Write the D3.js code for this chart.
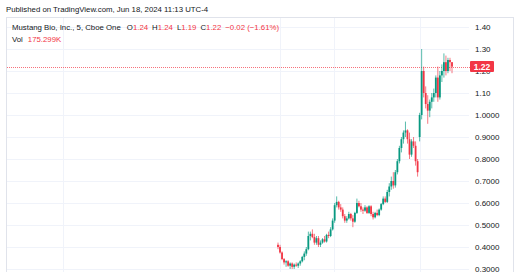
<!DOCTYPE html>
<html><head><meta charset="utf-8">
<script src="https://cdn.jsdelivr.net/npm/d3@7/dist/d3.min.js"></script>
<style>body{margin:0;background:#fff;}svg{display:block;font-family:"Liberation Sans",Arial,sans-serif;}</style>
</head><body>
<script>
const opens  = [.41,.40,.375,.345,.33,.335,.315,.325,.31,.32,.315,.325,.335,.355,.37,.39,.45,.46,.445,.42,.44,.41,.42,.435,.425,.455,.45,.48,.52,.59,.605,.58,.57,.54,.52,.53,.55,.53,.515,.555,.60,.585,.57,.565,.58,.555,.585,.55,.535,.555,.545,.57,.595,.62,.605,.65,.675,.70,.68,.74,.79,.85,.89,.92,.93,.89,.82,.88,.86,.79,.90,1.00,1.20,1.10,1.05,1.02,1.06,1.08,1.10,1.17,1.08,1.18,1.20,1.24,1.20,1.25,1.24];
const highs  = [.42,.41,.38,.35,.34,.34,.33,.33,.325,.33,.33,.34,.36,.38,.40,.47,.47,.48,.46,.45,.45,.43,.44,.45,.46,.47,.49,.53,.60,.63,.61,.595,.58,.55,.54,.56,.555,.545,.56,.62,.61,.60,.58,.59,.585,.59,.59,.56,.56,.57,.575,.60,.63,.63,.66,.69,.72,.74,.75,.80,.86,.90,.93,.97,.935,.92,.89,.90,.88,.80,1.01,1.30,1.22,1.13,1.09,1.07,1.10,1.12,1.18,1.22,1.20,1.23,1.28,1.27,1.26,1.26,1.24];
const lows   = [.39,.37,.34,.32,.31,.31,.30,.30,.30,.31,.305,.315,.33,.34,.36,.385,.43,.44,.41,.41,.40,.40,.415,.42,.42,.44,.445,.475,.51,.58,.57,.56,.53,.51,.51,.525,.52,.49,.51,.55,.58,.56,.55,.56,.55,.55,.54,.525,.53,.54,.54,.565,.59,.60,.60,.63,.66,.665,.67,.73,.78,.83,.87,.90,.87,.80,.81,.85,.77,.72,.88,.98,1.08,1.03,.96,.99,1.03,1.06,1.08,1.06,1.07,1.15,1.17,1.18,1.19,1.20,1.19];
const closes = [.40,.375,.345,.33,.335,.315,.325,.31,.32,.315,.325,.335,.355,.37,.39,.45,.46,.445,.42,.44,.41,.42,.435,.425,.455,.45,.48,.52,.59,.605,.58,.57,.54,.52,.53,.55,.53,.515,.555,.60,.585,.57,.565,.58,.555,.585,.55,.535,.555,.545,.57,.595,.62,.605,.65,.675,.70,.68,.74,.79,.85,.89,.92,.93,.89,.82,.88,.86,.79,.74,1.00,1.20,1.10,1.05,1.02,1.06,1.08,1.10,1.17,1.08,1.18,1.20,1.24,1.20,1.25,1.24,1.22];
const tickValues = [1.40,1.30,1.20,1.10,1.00,0.90,0.80,0.70,0.60,0.50,0.40,0.30];
const tickLabels = ["1.40","1.30","1.20","1.10","1.0000","0.9000","0.8000","0.7000","0.6000","0.5000","0.4000","0.3000"];
const vGrid = [63, 280, 334, 420];
const lastPrice = 1.22;

const W=520,H=272;
const svg=d3.select("body").append("svg").attr("width",W).attr("height",H);
const up="#089981", dn="#F23645";
const y=d3.scaleLinear().domain([0.30,1.40]).range([269,27]);
const x=d3.scaleLinear().domain([0,opens.length-1]).range([278,452]);

// frame
svg.append("rect").attr("x",6.5).attr("y",17.5).attr("width",507).attr("height",270).attr("fill","none").attr("stroke","#e0e3eb");
// grid
svg.selectAll("line.h").data(tickValues).enter().append("line")
  .attr("x1",7).attr("x2",469).attr("y1",d=>Math.round(y(d))+0.5).attr("y2",d=>Math.round(y(d))+0.5)
  .attr("stroke","#f0f3fa");
svg.selectAll("line.v").data(vGrid).enter().append("line")
  .attr("x1",d=>d+0.5).attr("x2",d=>d+0.5).attr("y1",18).attr("y2",H)
  .attr("stroke","#f0f3fa");

// price axis
const axis=d3.axisRight(y).tickValues(tickValues).tickSize(0).tickPadding(0).tickFormat((d,i)=>tickLabels[i]);
const ag=svg.append("g").attr("transform","translate(475,0)").call(axis);
ag.select(".domain").remove();
ag.selectAll("text").attr("fill","#131722").attr("font-size","8px").attr("dy","0.33em");

// last price line
svg.append("line").attr("x1",7).attr("x2",470).attr("y1",Math.round(y(lastPrice))+0.5).attr("y2",Math.round(y(lastPrice))+0.5)
  .attr("stroke",dn).attr("stroke-dasharray","1,1").attr("stroke-opacity",0.7);

// candles
const n=opens.length;
const idx=d3.range(n);
svg.selectAll("line.wick").data(idx).enter().append("line")
  .attr("x1",i=>x(i)).attr("x2",i=>x(i)).attr("y1",i=>y(highs[i])).attr("y2",i=>y(lows[i]))
  .attr("stroke",i=>closes[i]>=opens[i]?up:dn).attr("stroke-width",0.9).attr("stroke-opacity",0.75);
svg.selectAll("rect.body").data(idx).enter().append("rect")
  .attr("x",i=>x(i)-0.9).attr("width",1.8)
  .attr("y",i=>y(Math.max(opens[i],closes[i])))
  .attr("height",i=>Math.max(1,Math.abs(y(opens[i])-y(closes[i]))))
  .attr("fill",i=>closes[i]>=opens[i]?up:dn);

// last price label
const ly=y(lastPrice);
svg.append("rect").attr("x",470).attr("y",ly-5.5).attr("width",24).attr("height",11).attr("fill",dn).attr("rx",1);
svg.append("text").attr("x",482).attr("y",ly).attr("dy","0.35em").attr("text-anchor","middle")
  .attr("fill","#fff").attr("font-size","8.5px").attr("font-weight","bold").text(lastPrice.toFixed(2));

// header
svg.append("text").attr("x",6).attr("y",12).attr("font-size","7.8px").attr("fill","#131722")
  .text("Published on TradingView.com, Jun 18, 2024 11:13 UTC-4");
const leg=svg.append("text").attr("x",12).attr("y",30).attr("font-size","7.8px").attr("fill","#131722");
leg.append("tspan").text("Mustang Bio, Inc., 5, Cboe One");
const ohlc=[["O","1.24"],["H","1.24"],["L","1.19"],["C","1.22"]];
ohlc.forEach((p,i)=>{
  leg.append("tspan").attr("dx",i===0?6:4).text(p[0]);
  leg.append("tspan").attr("fill",dn).text(p[1]);
});
leg.append("tspan").attr("dx",4).attr("fill",dn).text("\u22120.02 (\u22121.61%)");
const vol=svg.append("text").attr("x",12).attr("y",42).attr("font-size","7.8px").attr("fill","#131722");
vol.append("tspan").text("Vol");
vol.append("tspan").attr("dx",5).attr("fill",dn).text("175.299K");
</script>
</body></html>
